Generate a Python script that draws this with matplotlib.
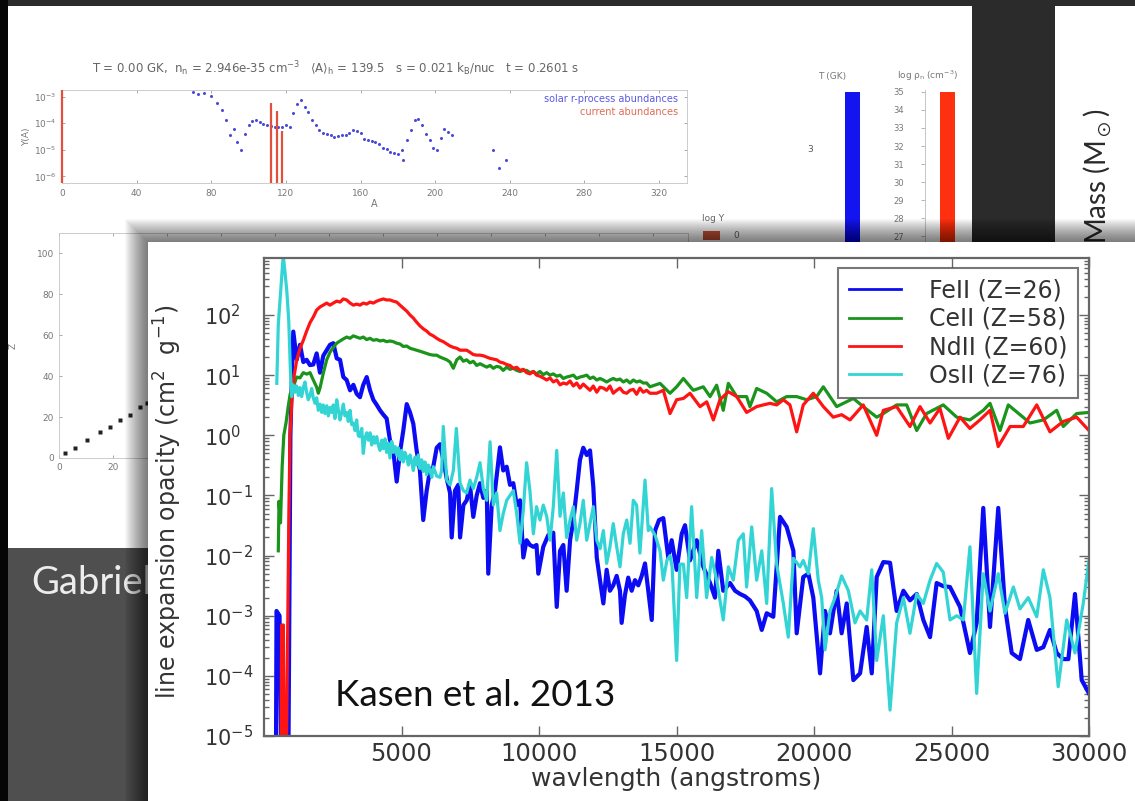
import matplotlib
matplotlib.use("Agg")
import matplotlib.pyplot as plt
from matplotlib.patches import Rectangle
from matplotlib.ticker import LogLocator, NullFormatter, FixedLocator

W, H, DPI = 1135, 801, 100
plt.rcParams["font.family"] = ["DejaVu Sans"]
plt.rcParams["mathtext.default"] = "regular"

# ---------------------------------------------------------------
# Line expansion opacity: (wavelength [Angstrom], kappa [cm^2 g^-1])
# ---------------------------------------------------------------
fe_ii = [(430, 1e-6), (455, 1.2e-3), (565, 1.0e-3), (640, 1e-6), (880, 1e-6), (960, 1.0), (1020, 12),
         (1065, 53), (1190, 18), (1310, 32), (1430, 16.5), (1550, 18), (1670, 14.7), (1790, 15), (1915, 23),
         (2035, 11), (2155, 21), (2280, 26), (2400, 32), (2520, 34), (2645, 19), (2765, 18), (2885, 9.3),
         (3005, 8.3), (3130, 5.6), (3250, 6.9), (3370, 4.9), (3490, 4.3), (3610, 6.9), (3735, 9.3),
         (3855, 5.6), (3975, 3.9), (4100, 3.2), (4220, 2.6), (4340, 2.2), (4460, 1.9), (4580, 0.83),
         (4700, 0.56), (4825, 0.17), (4945, 0.52), (5065, 1.2), (5190, 3.3), (5310, 2.4), (5430, 1.55),
         (5550, 0.56), (5670, 0.26), (5790, 0.039), (5915, 0.12), (6035, 0.26), (6155, 0.30), (6280, 0.62),
         (6400, 0.71), (6520, 0.39), (6645, 0.19), (6765, 0.11), (6825, 0.020), (6945, 0.12), (7065, 0.15),
         (7130, 0.020), (7250, 0.069), (7370, 0.083), (7490, 0.15), (7610, 0.044), (7735, 0.10),
         (7855, 0.16), (7975, 0.091), (8100, 0.12), (8155, 0.005), (8280, 0.069), (8400, 0.12),
         (8580, 0.63), (8700, 0.26), (8825, 0.30), (8945, 0.15), (9065, 0.16), (9190, 0.069), (9310, 0.083),
         (9430, 0.0093), (9550, 0.018), (9670, 0.015), (9795, 0.014), (9910, 0.015), (9975, 0.005),
         (10155, 0.014), (10340, 0.022), (10520, 0.024), (10645, 0.0014), (10765, 0.012), (10885, 0.015),
         (11005, 0.0026), (11130, 0.018), (11250, 0.039), (11370, 0.12), (11490, 0.39), (11610, 0.62),
         (11735, 0.47), (11855, 0.56), (11975, 0.14), (12100, 0.0093), (12220, 0.0039), (12340, 0.0016),
         (12460, 0.0058), (12580, 0.0026), (12700, 0.0032), (12825, 0.0046), (12945, 0.0026),
         (13005, 0.00076), (13125, 0.0022), (13245, 0.0043), (13370, 0.0026), (13490, 0.0039),
         (13610, 0.0032), (13735, 0.0046), (13855, 0.0074), (13975, 0.0026), (14100, 0.00085),
         (14220, 0.026), (14365, 0.039), (14520, 0.042), (14700, 0.0093), (14825, 0.018), (15005, 0.0058),
         (15190, 0.023), (15310, 0.032), (15490, 0.0083), (15735, 0.018), (15975, 0.0065), (16220, 0.0035),
         (16400, 0.0020), (16520, 0.012), (16700, 0.0026), (16945, 0.0035), (17130, 0.0026), (17310, 0.0023),
         (17490, 0.0021), (17670, 0.0018), (17915, 0.0012), (18100, 0.00058), (18280, 0.0011),
         (18520, 0.00096), (18765, 0.044), (19005, 0.030), (19250, 0.012), (19370, 0.00051), (19610, 0.0044),
         (19795, 0.005), (19975, 0.0020), (20220, 0.00011), (20400, 0.0012), (20580, 0.00051), (20825, 0.0026),
         (21005, 0.00051), (21190, 0.0016), (21430, 8.5e-5), (21675, 0.00011), (21915, 0.00065),
         (22100, 0.00011), (22280, 0.0044), (22520, 0.0078), (22765, 0.0076), (23005, 0.0012), (23250, 0.0026),
         (23490, 0.0018), (23735, 0.0023), (23975, 0.00085), (24220, 0.00044), (24460, 0.0035), (24700, 0.0031),
         (24945, 0.0030), (25310, 0.0014), (25670, 0.00024), (25915, 0.00076), (26155, 0.062), (26400, 0.00065),
         (26700, 0.062), (26945, 0.0014), (27190, 0.00024), (27490, 0.00019), (27790, 0.00085), (28100, 0.00027),
         (28340, 0.00030), (28580, 0.00058), (28825, 0.00024), (29065, 0.00019), (29250, 0.00019),
         (29490, 0.0023), (29735, 8.5e-5), (30000, 5.1e-5)]

ce_ii = [(520, 0.012), (545, 0.08), (600, 0.035), (660, 0.3), (720, 1.0), (800, 1.6), (880, 3.0), (950, 4.8),
         (1007, 5.6), (1091, 6.9), (1189, 9.3), (1309, 9.0), (1429, 11), (1553, 10.4), (1673, 11), (1793, 8.3),
         (1916, 6.3), (1975, 5.0), (2036, 6.1), (2156, 10.8), (2280, 18), (2400, 24), (2520, 29), (2644, 34),
         (2764, 37), (2884, 40), (3007, 43), (3127, 41), (3247, 45), (3371, 43), (3491, 41), (3611, 43),
         (3735, 39), (3855, 41), (3975, 38), (4098, 39), (4218, 37), (4338, 38), (4462, 36), (4582, 37),
         (4702, 36), (4825, 34), (4945, 33), (5065, 30), (5190, 30.5), (5310, 28), (5430, 27), (5550, 26),
         (5670, 25), (5790, 24), (5915, 23), (6035, 22), (6155, 21.5), (6280, 21.5), (6400, 20), (6520, 19),
         (6645, 18), (6765, 16.5), (6885, 13), (7010, 18), (7130, 20), (7250, 17), (7370, 18), (7490, 16),
         (7610, 17), (7735, 14.5), (7855, 15.5), (7975, 14.5), (8100, 13.6), (8220, 14.5), (8340, 13),
         (8460, 14), (8580, 13.6), (8700, 12), (8825, 13.6), (8945, 12.5), (9065, 13), (9190, 12),
         (9310, 11.5), (9430, 12), (9550, 12), (9670, 11), (9795, 11.5), (9910, 10.5), (10035, 11.5),
         (10155, 10.2), (10280, 11), (10400, 10), (10520, 10.5), (10645, 9.6), (10765, 10), (10885, 8.8),
         (11005, 9.3), (11130, 9.6), (11250, 10), (11370, 8.8), (11490, 9.3), (11610, 9.6), (11735, 10),
         (11855, 8.8), (11975, 9.3), (12100, 8.3), (12220, 8.8), (12340, 8.3), (12460, 7.7), (12580, 8.3),
         (12700, 8.8), (12825, 8.3), (12945, 8.6), (13065, 7.7), (13190, 8.3), (13310, 7.4), (13430, 8.3),
         (13550, 7.7), (13670, 8.0), (13790, 7.4), (13915, 7.4), (14035, 6.4), (14400, 7.3), (14765, 5.0),
         (15005, 6.4), (15250, 8.8), (15610, 5.6), (15975, 6.4), (16220, 4.4), (16460, 6.8), (16700, 2.6),
         (16885, 7.3), (17190, 4.4), (17550, 4.4), (17670, 3.0), (17915, 6.0), (18280, 5.0), (18645, 3.6),
         (19005, 4.4), (19370, 4.4), (19735, 3.9), (20095, 4.4), (20340, 6.4), (20825, 3.0), (21430, 4.1),
         (21790, 3.0), (22280, 2.0), (22520, 2.3), (23005, 3.2), (23370, 3.2), (23735, 1.2), (24095, 2.3),
         (24700, 3.2), (25190, 2.0), (25670, 1.8), (26155, 2.6), (26400, 3.4), (26764, 1.2), (27065, 3.2),
         (27490, 2.2), (27855, 1.6), (28340, 1.8), (28825, 2.6), (29065, 1.4), (29550, 2.3), (30000, 2.4)]

nd_ii = [(618, 1e-6), (640, 7e-4), (705, 7e-4), (745, 1e-6), (800, 1e-6), (900, 0.03), (945, 0.97),
         (1007, 3.4), (1090, 9.3), (1190, 18), (1310, 28), (1430, 38), (1550, 54), (1670, 74), (1795, 93),
         (1915, 121), (2035, 136), (2155, 146), (2280, 158), (2400, 146), (2520, 158), (2645, 170),
         (2765, 164), (2885, 185), (3005, 178), (3130, 158), (3250, 146), (3370, 152), (3490, 146),
         (3610, 158), (3735, 152), (3855, 164), (3975, 158), (4100, 170), (4220, 178), (4340, 185),
         (4460, 178), (4580, 178), (4700, 170), (4825, 164), (4945, 146), (5065, 130), (5190, 116),
         (5310, 100), (5430, 89), (5550, 76), (5670, 66), (5790, 59), (5915, 54), (6035, 48), (6155, 45),
         (6280, 41), (6400, 38), (6520, 36), (6645, 33), (6765, 30.5), (6885, 29), (7010, 28), (7130, 26),
         (7250, 26), (7370, 26), (7490, 24), (7610, 22), (7735, 21.5), (7855, 21.5), (7975, 21), (8100, 20),
         (8220, 19), (8340, 18.5), (8460, 18), (8580, 16.5), (8700, 16), (8825, 15), (8945, 14.5), (9065, 13),
         (9190, 13.5), (9310, 12), (9430, 12.5), (9550, 11), (9670, 10.5), (9795, 11.5), (9910, 10),
         (10035, 9.6), (10155, 9.0), (10280, 8.3), (10400, 9.0), (10520, 7.7), (10645, 8.3), (10765, 6.9),
         (10885, 7.4), (11005, 7.1), (11130, 8.0), (11250, 6.6), (11370, 7.4), (11490, 6.1), (11610, 7.1),
         (11735, 6.3), (11855, 5.6), (11975, 6.6), (12100, 5.2), (12220, 6.3), (12340, 6.1), (12460, 5.6),
         (12580, 6.6), (12700, 5.0), (12825, 5.6), (12945, 6.1), (13065, 5.2), (13190, 5.0), (13310, 5.6),
         (13430, 5.8), (13550, 4.8), (13670, 6.1), (13790, 5.2), (13915, 5.6), (14035, 5.0), (14280, 5.0),
         (14520, 5.6), (14765, 2.3), (15005, 3.9), (15250, 4.1), (15490, 5.0), (15855, 3.0), (16100, 3.6),
         (16340, 1.8), (16580, 3.9), (16885, 5.3), (17190, 4.4), (17550, 2.4), (17915, 3.0), (18155, 3.2),
         (18400, 3.4), (18645, 3.2), (18885, 3.9), (19125, 3.2), (19370, 1.14), (19610, 3.2), (19975, 5.0),
         (20340, 3.0), (20700, 2.0), (21005, 2.2), (21310, 1.8), (21790, 3.2), (22280, 1.0), (22520, 2.6),
         (23005, 3.0), (23490, 1.4), (23855, 3.0), (24220, 1.6), (24580, 2.8), (24885, 0.89), (25310, 2.0),
         (25670, 1.3), (26035, 1.8), (26400, 2.6), (26700, 0.65), (27130, 1.4), (27610, 1.4), (28100, 3.2),
         (28580, 1.14), (29065, 1.7), (29550, 2.0), (30000, 1.2)]

os_ii = [(465, 7.3), (520, 70), (700, 1000), (830, 250), (900, 80), (960, 12), (1005, 4.4), (1065, 6.9),
         (1125, 5.2), (1190, 6.6), (1250, 4.6), (1310, 6.2), (1370, 4.4), (1430, 6.2), (1490, 7.7), (1550, 5.2),
         (1610, 3.9), (1670, 4.6), (1735, 6.0), (1790, 4.2), (1855, 3.4), (1915, 4.2), (1975, 2.6), (2035, 3.3),
         (2100, 2.4), (2155, 3.2), (2215, 2.3), (2280, 3.1), (2340, 2.1), (2400, 2.9), (2460, 2.4), (2520, 3.2),
         (2580, 1.9), (2645, 3.9), (2705, 2.6), (2765, 1.8), (2825, 2.4), (2885, 3.3), (2945, 2.1), (3005, 2.4),
         (3065, 1.7), (3130, 2.6), (3190, 1.5), (3250, 1.6), (3310, 1.2), (3370, 1.8), (3430, 0.98),
         (3490, 0.95), (3555, 1.3), (3610, 0.50), (3675, 0.91), (3735, 1.1), (3795, 0.83), (3855, 1.1),
         (3915, 0.69), (3975, 0.95), (4035, 0.74), (4100, 0.95), (4155, 0.69), (4220, 0.56), (4280, 0.83),
         (4340, 0.60), (4400, 0.87), (4460, 0.52), (4520, 0.74), (4580, 0.42), (4645, 0.79), (4700, 0.52),
         (4765, 0.65), (4825, 0.47), (4885, 0.62), (4945, 0.39), (5005, 0.56), (5065, 0.36), (5125, 0.52),
         (5190, 0.43), (5250, 0.32), (5310, 0.47), (5370, 0.36), (5430, 0.26), (5490, 0.43), (5550, 0.32),
         (5610, 0.47), (5670, 0.28), (5735, 0.39), (5790, 0.25), (5855, 0.36), (5915, 0.22), (5975, 0.32),
         (6035, 0.26), (6100, 0.20), (6155, 0.30), (6280, 0.21), (6400, 0.20), (6460, 0.26), (6520, 1.4),
         (6645, 0.18), (6765, 0.15), (6885, 0.26), (6995, 1.3), (7130, 0.16), (7250, 0.12), (7370, 0.11),
         (7490, 0.18), (7610, 0.13), (7735, 0.20), (7855, 0.35), (7975, 0.13), (8100, 0.083), (8220, 0.78),
         (8340, 0.069), (8460, 0.11), (8580, 0.026), (8700, 0.050), (8825, 0.083), (8945, 0.10), (9065, 0.12),
         (9190, 0.050), (9310, 0.016), (9430, 0.058), (9550, 0.35), (9670, 0.12), (9795, 0.023), (9910, 0.065),
         (10035, 0.039), (10155, 0.069), (10280, 0.045), (10400, 0.018), (10520, 0.065), (10645, 0.56),
         (10765, 0.045), (10885, 0.11), (11005, 0.020), (11130, 0.039), (11250, 0.065), (11370, 0.018),
         (11490, 0.034), (11610, 0.083), (11735, 0.018), (11855, 0.034), (11975, 0.065), (12100, 0.018),
         (12220, 0.013), (12340, 0.026), (12460, 0.0074), (12580, 0.014), (12700, 0.034), (12825, 0.014),
         (12945, 0.0065), (13065, 0.023), (13190, 0.039), (13310, 0.016), (13430, 0.083), (13550, 0.069),
         (13670, 0.011), (13855, 0.18), (13975, 0.026), (14035, 0.030), (14220, 0.022), (14400, 0.012),
         (14520, 0.0039), (14650, 0.0083), (14765, 0.010), (14840, 0.0065), (15005, 0.00018), (15125, 0.0072),
         (15250, 0.0072), (15370, 0.0020), (15550, 0.065), (15735, 0.0020), (15915, 0.026), (16095, 0.0020),
         (16280, 0.0093), (16460, 0.0039), (16700, 0.00085), (16885, 0.0065), (17065, 0.0039), (17250, 0.018),
         (17430, 0.023), (17550, 0.0030), (17735, 0.030), (17915, 0.0039), (18100, 0.012), (18280, 0.0016),
         (18460, 0.13), (18640, 0.0072), (18885, 0.0016), (19065, 0.00044), (19250, 0.0090), (19490, 0.0065),
         (19610, 0.0083), (19795, 0.0050), (19975, 0.028), (20155, 0.0039), (20280, 0.0020), (20400, 0.00027),
         (20580, 0.0012), (20765, 0.0020), (21005, 0.0046), (21250, 0.0026), (21490, 0.00076), (21675, 0.0012),
         (21915, 0.00085), (22100, 0.0058), (22280, 0.00018), (22520, 0.0010), (22765, 2.7e-5), (23005, 0.00076),
         (23250, 0.0020), (23490, 0.00051), (23735, 0.0023), (23975, 0.0016), (24220, 0.0039), (24460, 0.0074),
         (24700, 0.0053), (24945, 0.00085), (25190, 0.0010), (25430, 0.00085), (25670, 0.014), (25915, 5.1e-5),
         (26155, 0.005), (26400, 0.0012), (26700, 0.005), (26945, 0.0011), (27250, 0.0030), (27490, 0.0013),
         (27790, 0.0020), (28100, 0.00096), (28340, 0.0058), (28580, 0.0020), (28880, 6.6e-5), (29190, 0.00085),
         (29490, 0.00024), (29790, 0.0016), (30000, 0.0083)]

ion_labels = ["FeII (Z=26)", "CeII (Z=58)", "NdII (Z=60)", "OsII (Z=76)"]
ion_colors = ["#0c0cf4", "#1a941a", "#ff1414", "#33d4d4"]
ion_widths = [3.0, 2.3, 2.3, 2.3]
wavelength_ticks = [5000, 10000, 15000, 20000, 25000, 30000]
opacity_decades = [1e-5, 1e-4, 1e-3, 1e-2, 1e-1, 1e0, 1e1, 1e2]

# ---------------------------------------------------------------
# Network snapshot shown on the slide behind the opacity plot
# ---------------------------------------------------------------
abund_range = (10 ** -6.25, 10 ** -2.75)
solar_A = [70, 73, 76, 80, 83, 86, 88, 90, 92, 94, 96, 98, 100, 102, 104, 106, 108, 110, 112, 114, 116,
           118, 120, 122, 124, 126, 128, 130, 132, 134, 136, 138, 140, 142, 144, 146, 148, 150, 152, 154,
           156, 158, 160, 162, 164, 166, 168, 170, 172, 174, 176, 178, 180, 182, 183, 185, 187, 189, 191,
           193, 195, 197, 199, 201, 203, 205, 207, 209, 231, 234, 238]
solar_Y = [1.5e-3, 1.3e-3, 1.4e-3, 1.1e-3, 6e-4, 3.2e-4, 1.3e-4, 3.6e-5, 6e-5, 2e-5, 1e-5, 4e-5, 8.5e-5,
           1.2e-4, 1.3e-4, 1.1e-4, 9.5e-5, 8.5e-5, 8e-5, 7.2e-5, 7.2e-5, 7.5e-5, 8.5e-5, 7e-5, 2.5e-4,
           5.5e-4, 7.4e-4, 4e-4, 2.6e-4, 1.3e-4, 8.5e-5, 5.6e-5, 4.3e-5, 4e-5, 3.5e-5, 3e-5, 3.2e-5,
           3.6e-5, 3.6e-5, 4.3e-5, 5.6e-5, 5e-5, 4.3e-5, 2.6e-5, 2.3e-5, 2.2e-5, 2e-5, 1.6e-5, 1.2e-5,
           1.1e-5, 8.3e-6, 7.5e-6, 7e-6, 1e-5, 4.2e-6, 2.3e-5, 5.6e-5, 1.3e-4, 1.5e-4, 8.5e-5, 4e-5,
           2.3e-5, 1.2e-5, 1e-5, 2.8e-5, 6.3e-5, 4.6e-5, 3.6e-5, 1e-5, 2.1e-6, 4.2e-6]
current_A = [0, 112, 115, 118]
current_Y = [10 ** -2.75, 6e-4, 3e-4, 5e-5]
abund_ticks_A = [0, 40, 80, 120, 160, 200, 240, 280, 320]

track_N = [2.2, 5.9, 10.4, 15.2, 18.9, 22.6, 26.3, 30.0, 32.6]
track_Z = [2.4, 4.9, 8.8, 12.7, 15.1, 18.5, 21.0, 24.9, 26.8]

temperature_GK = [3.6]
log_rho_n = [35.0]
rho_ticks = [27, 28, 29, 30, 31, 32, 33, 34, 35]

fig = plt.figure(figsize=(W / DPI, H / DPI), dpi=DPI)
fig.patch.set_facecolor("#2b2b2b")


def px_axes(x0, y0, x1, y1, z):
    return fig.add_axes([x0 / W, 1 - y1 / H, (x1 - x0) / W, (y1 - y0) / H], zorder=z)


# ---- slide background -------------------------------------------------
bg = px_axes(0, 0, W, H, 0)
bg.set_xlim(0, W)
bg.set_ylim(H, 0)
bg.axis("off")
bg.add_patch(Rectangle((0, 0), 8, H, fc="#060606", ec="none"))
bg.add_patch(Rectangle((8, 6), 964, 542, fc="white", ec="none"))
bg.add_patch(Rectangle((8, 548), 420, 260, fc="#4f4f4f", ec="none"))
bg.add_patch(Rectangle((1055, 6), 80, 240, fc="white", ec="none"))
bg.text(31, 594, "Gabriel", color="#ededed", fontsize=27.5, family="Lato", va="baseline")
bg.text(1098, 244, r"Mass (M$_\odot$)", rotation=90, ha="center", va="bottom", fontsize=20,
        family="Lato", color="#2a2a2a")
bg.text(832, 79, "T (GK)", fontsize=6.5, color="#777", ha="center")
bg.text(928, 79, r"log $\rho_n$ (cm$^{-3}$)", fontsize=6.5, color="#777", ha="center")
bg.text(713, 221, "log Y", fontsize=6.5, color="#666", ha="center")
bg.add_patch(Rectangle((703, 231), 17, 9, fc="#c9573f", ec="none"))
bg.text(736, 238, "0", fontsize=6.5, color="#666", ha="center")

# ---- abundance snapshot -------------------------------------------------
at = px_axes(62, 90, 687, 183, 1)
at.set_yscale("log")
at.set_xlim(0, 335)
at.set_ylim(*abund_range)
at.plot(solar_A, solar_Y, ls="none", marker="o", ms=2.2, mec="none", color="#4a4ad8")
at.vlines(current_A, abund_range[0], current_Y, color="#e0503c", lw=1.6, zorder=3, clip_on=False)
at.set_xticks(abund_ticks_A)
at.set_yticks([1e-3, 1e-4, 1e-5, 1e-6])
at.yaxis.set_minor_locator(FixedLocator([]))
at.tick_params(direction="in", length=2, width=0.6, colors="#9a9a9a", labelsize=6.5,
               labelcolor="#777", top=True, right=True, pad=4)
for s in at.spines.values():
    s.set_color("#c4c4c4")
    s.set_linewidth(0.6)
at.set_xlabel("A", fontsize=7, color="#777", labelpad=1)
at.set_ylabel("Y(A)", fontsize=6.5, color="#777", labelpad=2)
at.text(0.438, 1.13, r"T = 0.00 GK,  $n_n$ = 2.946e-35 cm$^{-3}$   $\langle A\rangle_h$ = 139.5   "
        r"s = 0.021 $k_B$/nuc   t = 0.2601 s", transform=at.transAxes, ha="center", va="bottom",
        fontsize=8.5, color="#666")
at.text(0.985, 0.87, "solar r-process abundances", transform=at.transAxes, ha="right",
        fontsize=7, color="#5a5ae0")
at.text(0.985, 0.73, "current abundances", transform=at.transAxes, ha="right",
        fontsize=7, color="#e06a55")

# ---- nuclear chart track -------------------------------------------------
ab = px_axes(59, 233, 688, 458, 1)
ab.set_xlim(0, 233)
ab.set_ylim(0, 110)
ab.plot(track_N, track_Z, ls="none", marker="s", ms=2.8, mec="none", color="#222")
ab.set_xticks([0, 20, 40, 60, 80, 100, 120, 140, 160, 180, 200, 220])
ab.set_xticklabels(["0", "20"] + [""] * 10)
ab.set_yticks([0, 20, 40, 60, 80, 100])
ab.tick_params(direction="in", length=2, width=0.6, colors="#9a9a9a", labelsize=6.5,
               labelcolor="#777", top=True, right=True)
for s in ab.spines.values():
    s.set_color("#c4c4c4")
    s.set_linewidth(0.6)
ab.set_ylabel("Z", fontsize=6.5, color="#777", labelpad=14)

# ---- thermodynamic gauges -------------------------------------------------
aT = px_axes(830, 92, 875, 430, 1)
aT.bar([1.5], temperature_GK, width=1.0, color="#1414f0")
aT.set_xlim(0, 3)
aT.set_ylim(0, temperature_GK[0])
aT.set_xticks([])
aT.set_yticks([3])
aT.tick_params(length=0, labelsize=6.5, labelcolor="#555", pad=12)
for s in aT.spines.values():
    s.set_visible(False)

ar = px_axes(925, 90, 970, 430, 1)
ar.bar([1.5], log_rho_n, width=1.0, color="#ff3010")
ar.set_xlim(0, 3)
ar.set_ylim(16.3, 35.1)
ar.set_xticks([])
ar.set_yticks(rho_ticks)
ar.tick_params(direction="out", length=3, width=0.6, colors="#aaa", labelsize=6,
               labelcolor="#777", pad=12)
for k in ("top", "right", "bottom"):
    ar.spines[k].set_visible(False)
ar.spines["left"].set_color("#bbb")
ar.spines["left"].set_linewidth(0.6)

# ---- front panel with its drop shadow ---------------------------------------
ov = px_axes(0, 0, W, H, 2)
ov.set_xlim(0, W)
ov.set_ylim(H, 0)
ov.axis("off")
for d in range(1, 24):
    ov.add_patch(Rectangle((148 - d, 242 - d), W, H, fc="black", alpha=0.026, ec="none"))
ov.add_patch(Rectangle((148, 242), W, H, fc="white", ec="none"))

# ---- opacity plot -----------------------------------------------------------
ax = px_axes(264, 258, 1089, 736, 3)
ax.set_facecolor("white")
for data, lab, col, lw in zip([fe_ii, ce_ii, nd_ii, os_ii], ion_labels, ion_colors, ion_widths):
    wl, kap = zip(*data)
    ax.plot(wl, kap, color=col, lw=lw, label=lab, solid_joinstyle="round")

ax.set_yscale("log")
ax.set_xlim(0, 30000)
ax.set_ylim(1e-5, 887)
ax.set_xticks(wavelength_ticks)
ax.set_yticks(opacity_decades)
ax.yaxis.set_minor_locator(LogLocator(base=10, subs=range(2, 10), numticks=20))
ax.yaxis.set_minor_formatter(NullFormatter())
ax.tick_params(which="both", direction="in", top=True, right=True, colors="#666", width=1.0)
ax.tick_params(which="major", length=7, labelcolor="#333")
ax.tick_params(which="minor", length=3.5)
ax.tick_params(axis="x", which="major", labelsize=17.5, pad=4)
ax.tick_params(axis="y", which="major", labelsize=15, pad=43)
plt.setp(ax.get_yticklabels(), ha="left")
for s in ax.spines.values():
    s.set_color("#666")
    s.set_linewidth(1.6)

ax.set_xlabel("wavlength (angstroms)", fontsize=18, color="#333", labelpad=1)
ax.set_ylabel(r"line expansion opacity (cm$^2$  g$^{-1}$)", fontsize=17, color="#333")
ax.yaxis.set_label_coords(-0.097, 0.49)

leg = ax.legend(loc="upper right", bbox_to_anchor=(1078 / W, 1 - 268 / H), bbox_transform=fig.transFigure,
                fontsize=17, frameon=True, fancybox=False, borderaxespad=0, handlelength=2.2,
                handletextpad=1.2, labelspacing=0.18, borderpad=0.45)
leg.get_frame().set_edgecolor("#555")
leg.get_frame().set_linewidth(1.5)
for t in leg.get_texts():
    t.set_color("#333")
for h in leg.get_lines():
    h.set_linewidth(2.0)

ax.text(0.086, 0.062, "Kasen et al. 2013", transform=ax.transAxes, fontsize=26.5, family="Lato",
        color="#111", va="baseline")

fig.savefig("out.png", dpi=DPI, facecolor=fig.get_facecolor())
